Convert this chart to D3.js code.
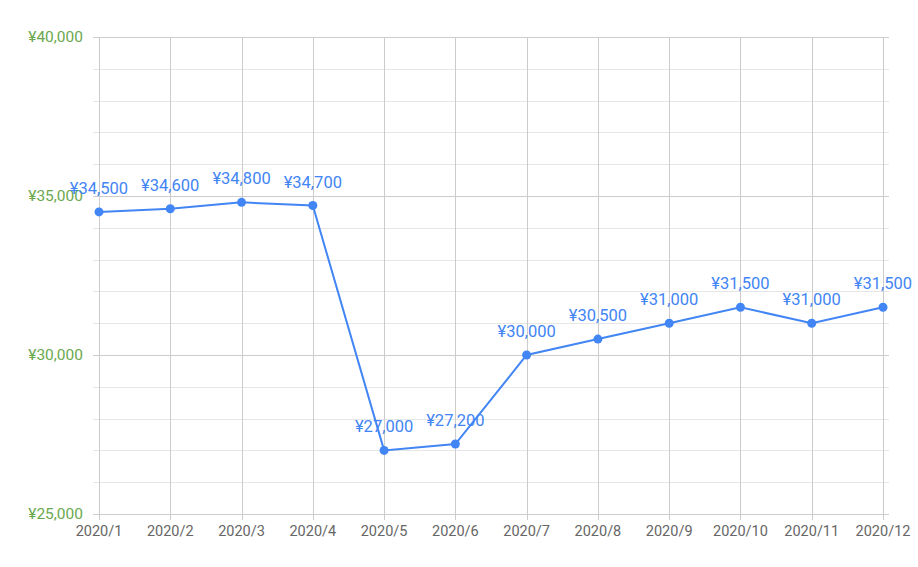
<!DOCTYPE html>
<html><head><meta charset="utf-8">
<script src="https://cdn.jsdelivr.net/npm/d3@7"></script>
<style>body{margin:0;background:#fff;font-family:Roboto,Arial,sans-serif}</style>
</head><body><svg id="c" width="918" height="567"></svg>
<script>
const categories = ["2020/1","2020/2","2020/3","2020/4","2020/5","2020/6","2020/7","2020/8","2020/9","2020/10","2020/11","2020/12"];
const values = [34500,34600,34800,34700,27000,27200,30000,30500,31000,31500,31000,31500];
const yTicks = [25000,30000,35000,40000];
const yMinor = d3.range(25000, 40001, 1000);

const svg = d3.select("#c");
const x = d3.scalePoint().domain(categories).range([99, 883]);
const y = d3.scaleLinear().domain([25000, 40000]).range([514, 37]);
const fmt = v => "¥" + d3.format(",")(v);

// minor grid
svg.append("g").selectAll("line").data(yMinor.filter(v => v % 5000 !== 0)).join("line")
  .attr("x1", 93).attr("x2", 889).attr("y1", d => Math.round(y(d)) + 0.5).attr("y2", d => Math.round(y(d)) + 0.5)
  .attr("stroke", "#e6e6e6").attr("stroke-width", 1);
// vertical grid
svg.append("g").selectAll("line").data(categories).join("line")
  .attr("x1", d => Math.round(x(d)) + 0.5).attr("x2", d => Math.round(x(d)) + 0.5)
  .attr("y1", 37).attr("y2", 520)
  .attr("stroke", "#cccccc").attr("stroke-width", 1);
// major grid
svg.append("g").selectAll("line").data(yTicks).join("line")
  .attr("x1", 93).attr("x2", 889).attr("y1", d => Math.round(y(d)) + 0.5).attr("y2", d => Math.round(y(d)) + 0.5)
  .attr("stroke", "#cccccc").attr("stroke-width", 1);

// y labels
svg.append("g").selectAll("text").data(yTicks).join("text")
  .attr("x", 83).attr("y", d => y(d) + 5).attr("text-anchor", "end")
  .attr("fill", "#6aa84f").attr("font-size", 15.5).text(fmt);
// x labels
svg.append("g").selectAll("text").data(categories).join("text")
  .attr("x", d => x(d)).attr("y", 536).attr("text-anchor", "middle")
  .attr("fill", "#666666").attr("font-size", 14.5).text(d => d);

// line
const line = d3.line().x((d, i) => x(categories[i])).y(d => y(d));
svg.append("path").datum(values).attr("d", line)
  .attr("fill", "none").attr("stroke", "#4285f4").attr("stroke-width", 2);
svg.append("g").selectAll("circle").data(values).join("circle")
  .attr("cx", (d, i) => x(categories[i])).attr("cy", d => y(d)).attr("r", 4.5)
  .attr("fill", "#4285f4");
// data labels
svg.append("g").selectAll("text").data(values).join("text")
  .attr("x", (d, i) => x(categories[i])).attr("y", d => y(d) - 18).attr("text-anchor", "middle")
  .attr("fill", "#4285f4").attr("font-size", 16.5).text(fmt);
</script></body></html>
